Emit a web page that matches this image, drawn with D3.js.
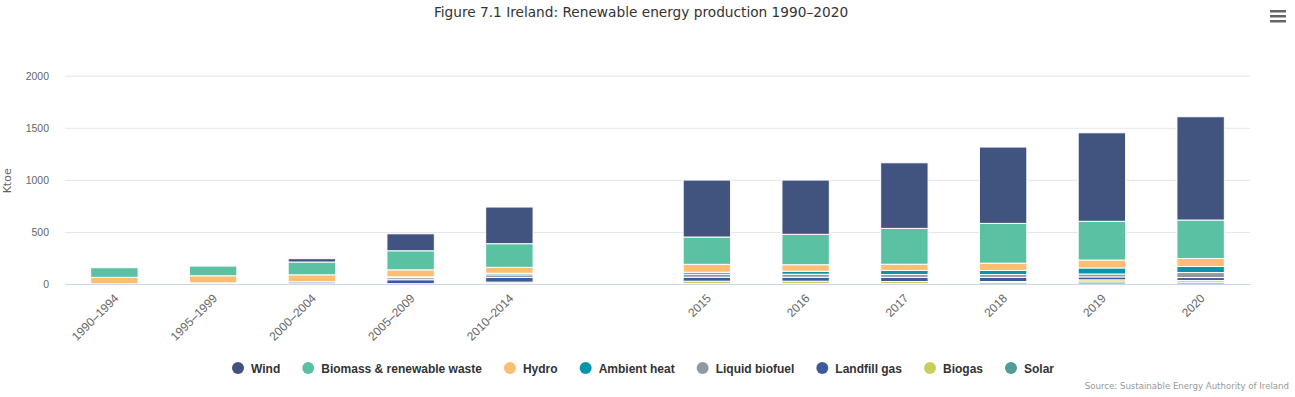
<!DOCTYPE html>
<html>
<head>
<meta charset="utf-8">
<script src="https://cdn.jsdelivr.net/npm/d3@7"></script>
<style>
    body { margin: 0; background: #fff; }
    svg { display: block; font-family: "DejaVu Sans", Verdana, sans-serif; }
</style>
</head>
<body>
<svg id="grafico"></svg>
<script>
// categorias (a vazia deixa o intervalo entre 2010-2014 e 2015)
const categorias = ["1990–1994", "1995–1999", "2000–2004", "2005–2009", "2010–2014", "",
    "2015", "2016", "2017", "2018", "2019", "2020"];

const wind      = [0, 2, 32, 163, 352, 0, 547, 521, 630, 733, 850, 992];
const biomassa  = [92, 95, 123, 183, 227, 0, 262, 292, 344, 382, 372, 369];
const hydro     = [62, 68, 66, 67, 57, 0, 76, 62, 60, 70, 76, 77];
const ambiente  = [0, 0, 0, 8, 15, 0, 19, 29, 39, 39, 58, 58];
const liquido   = [0, 0, 2, 20, 25, 0, 29, 29, 27, 27, 28, 48];
const aterro    = [2, 10, 17, 38, 45, 0, 38, 38, 40, 40, 28, 28];
const biogas    = [0, 1, 3, 3, 15, 0, 24, 24, 20, 10, 20, 17];
const solar     = [0, 0, 0, 0, 3, 0, 3, 3, 4, 14, 20, 17];

const yTicks = [0, 500, 1000, 1500, 2000];

// ordem da legenda; o primeiro fica no topo da pilha
const series = [
    { nome: "Wind", valores: wind, cor: "#41547f" },
    { nome: "Biomass & renewable waste", valores: biomassa, cor: "#5ac1a3" },
    { nome: "Hydro", valores: hydro, cor: "#fdbe74" },
    { nome: "Ambient heat", valores: ambiente, cor: "#0795aa" },
    { nome: "Liquid biofuel", valores: liquido, cor: "#9298a0" },
    { nome: "Landfill gas", valores: aterro, cor: "#3f5a9c" },
    { nome: "Biogas", valores: biogas, cor: "#c8ce5c" },
    { nome: "Solar", valores: solar, cor: "#549a9a" },
];

const width = 1295, height = 397;
const margem = { left: 65, right: 45, top: 75.7, bottom: 113 };

const svg = d3.select("#grafico")
    .attr("width", width)
    .attr("height", height);

const x = d3.scaleBand()
    .domain(categorias.map((c, i) => i))
    .range([margem.left, width - margem.right])
    .paddingInner(0.52)
    .paddingOuter(0.26);

const y = d3.scaleLinear()
    .domain([0, 2000])
    .range([height - margem.bottom, margem.top]);

// titulo
svg.append("text")
    .attr("x", 641)
    .attr("y", 17)
    .attr("text-anchor", "middle")
    .attr("fill", "#333")
    .style("font-size", "13.7px")
    .text("Figure 7.1 Ireland: Renewable energy production 1990–2020");

// menu
svg.append("g")
    .selectAll("rect")
    .data([0, 1, 2])
    .enter()
    .append("rect")
    .attr("x", 1270)
    .attr("y", (d) => 10 + d * 5)
    .attr("width", 16)
    .attr("height", 2.5)
    .attr("fill", "#666");

// grade e eixo y
const eixoY = svg.append("g")
    .attr("transform", `translate(${margem.left}, 0)`)
    .call(d3.axisLeft(y)
        .tickValues(yTicks)
        .tickFormat(d3.format("d"))
        .tickSize(-(width - margem.left - margem.right))
        .tickPadding(16));
eixoY.select(".domain").remove();
eixoY.selectAll(".tick line").attr("stroke", "#e6e6e6");
eixoY.selectAll(".tick text")
    .attr("fill", "#666")
    .style("font-size", "10.5px");

svg.append("text")
    .attr("transform", `translate(11, ${y(1000) + 1}) rotate(-90)`)
    .attr("text-anchor", "middle")
    .attr("fill", "#666")
    .style("font-size", "11px")
    .text("Ktoe");

// pilhas
const pilha = d3.stack()
    .keys(series.map((s, i) => i).reverse())
    .value((d, k) => series[k].valores[d]);

const camadas = pilha(categorias.map((c, i) => i));

svg.append("g")
    .selectAll("g")
    .data(camadas)
    .enter()
    .append("g")
    .attr("fill", (d) => series[d.key].cor)
    .selectAll("rect")
    .data((d) => d.filter((p) => p[1] - p[0] > 0))
    .enter()
    .append("rect")
    .attr("x", (p) => x(p.data))
    .attr("width", x.bandwidth())
    .attr("y", (p) => y(p[1]))
    .attr("height", (p) => y(p[0]) - y(p[1]))
    .attr("stroke", "#fff")
    .attr("stroke-width", 1);

// eixo x
const eixoX = svg.append("g")
    .attr("transform", `translate(0, ${y(0)})`)
    .call(d3.axisBottom(x).tickSize(0).tickFormat((i) => categorias[i]));
eixoX.select(".domain").attr("stroke", "#ccd6eb");
eixoX.selectAll(".tick text")
    .attr("fill", "#666")
    .style("font-size", "12px")
    .attr("text-anchor", "end")
    .attr("dy", "0.35em")
    .attr("transform", "translate(2, 12) rotate(-45)")
    .attr("y", 0)
    .attr("x", 0);

// legenda
const legenda = svg.append("g")
    .attr("transform", "translate(0, 368)");

let posX = 232;
series.forEach((s) => {
    const item = legenda.append("g").attr("transform", `translate(${posX}, 0)`);
    item.append("circle")
        .attr("cx", 6)
        .attr("cy", 0)
        .attr("r", 6)
        .attr("fill", s.cor);
    const t = item.append("text")
        .attr("x", 19)
        .attr("y", 4.5)
        .attr("fill", "#333")
        .style("font-family", "'Liberation Sans', Arial, sans-serif")
        .style("font-size", "12px")
        .style("font-weight", "bold")
        .text(s.nome);
    posX += 19 + t.node().getComputedTextLength() + 22;
});

svg.append("text")
    .attr("x", 1289)
    .attr("y", 389)
    .attr("text-anchor", "end")
    .attr("fill", "#999")
    .style("font-size", "8.6px")
    .text("Source: Sustainable Energy Authority of Ireland");
</script>
</body>
</html>
